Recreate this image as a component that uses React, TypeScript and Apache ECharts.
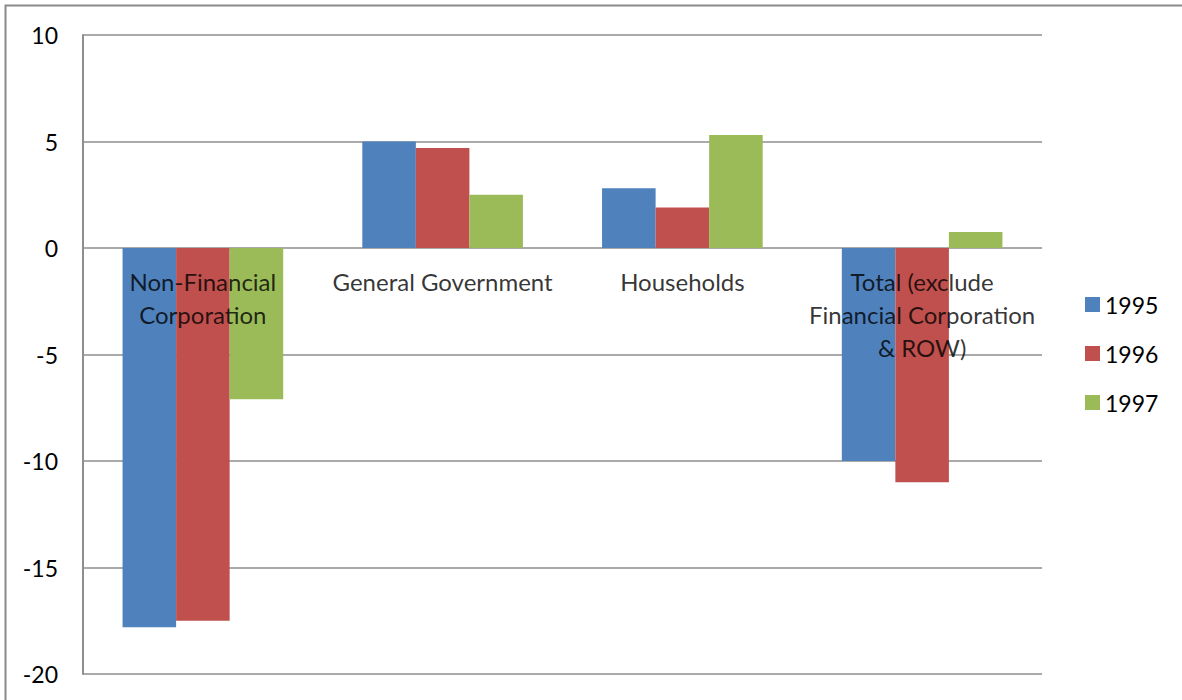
import React, { useEffect, useRef } from "react";
import * as echarts from "echarts";

const categories = ["Non-Financial Corporation", "General Government", "Households", "Total (exclude Financial Corporation & ROW)"];
const categoryLabels = ["Non-Financial\nCorporation", "General Government", "Households", "Total (exclude\nFinancial Corporation\n& ROW)"];
const seriesNames = ["1995", "1996", "1997"];
const values1995 = [-17.8, 5.0, 2.8, -10.0];
const values1996 = [-17.5, 4.7, 1.9, -11.0];
const values1997 = [-7.1, 2.5, 5.3, 0.75];
const colors = ["#4F81BD", "#C0504D", "#9BBB59"];

const FONT = "Lato, 'Open Sans', sans-serif";
const FS = 23;

export default function App() {
  const ref = useRef<HTMLDivElement>(null);
  useEffect(() => {
    if (!ref.current) return;
    const chart = echarts.init(ref.current, undefined, { renderer: "svg" });
    const data = [values1995, values1996, values1997];
    chart.setOption({
      animation: false,
      backgroundColor: "#ffffff",
      textStyle: { fontFamily: FONT },
      graphic: [
        {
          type: "rect",
          shape: { x: 5.5, y: 5.5, width: 1300, height: 800 },
          style: { fill: "none", stroke: "#8a8a8a", lineWidth: 2 },
          silent: true,
        },
      ],
      grid: { left: 83, top: 35, right: 140, bottom: 26, containLabel: false, outerBoundsMode: "none" },
      legend: {
        orient: "vertical",
        left: 1080,
        top: 288,
        itemWidth: 15,
        itemHeight: 15,
        itemGap: 26,
        icon: "rect",
        data: seriesNames,
        textStyle: { fontSize: FS, lineHeight: 20, color: "#000", fontFamily: FONT },
      },
      xAxis: {
        type: "category",
        data: categories,
        axisLine: { show: false },
        axisTick: { show: false },
        axisLabel: { show: false },
        splitLine: { show: false },
      },
      yAxis: {
        type: "value",
        min: -20,
        max: 10,
        interval: 5,
        axisLine: { show: true, lineStyle: { color: "#8e8e8e", width: 2 } },
        axisTick: { show: false },
        axisLabel: { fontSize: FS, color: "#000", margin: 25, fontFamily: FONT },
        splitLine: { show: true, lineStyle: { color: "#8e8e8e", width: 1.5 } },
      },
      series: [
        ...seriesNames.map((name, i) => ({
          name,
          type: "bar",
          data: data[i],
          barGap: "0%",
          barCategoryGap: "33%",
          itemStyle: { color: colors[i] },
        })),
        {
          name: "labels",
          type: "scatter",
          z: 10,
          silent: true,
          symbolSize: 1,
          itemStyle: { color: "rgba(0,0,0,0)" },
          data: categories.map((c) => [c, 0]),
          label: {
            show: true,
            position: "bottom",
            distance: 16,
            align: "center",
            fontSize: 24,
            lineHeight: 33,
            color: "#000",
            fontFamily: FONT,
            formatter: (p: any) => categoryLabels[p.dataIndex],
          },
        },
      ],
    });
    return () => chart.dispose();
  }, []);
  return (
    <div
      ref={ref}
      style={{ position: "absolute", left: 0, top: 0, width: 1182, height: 700 }}
    />
  );
}
